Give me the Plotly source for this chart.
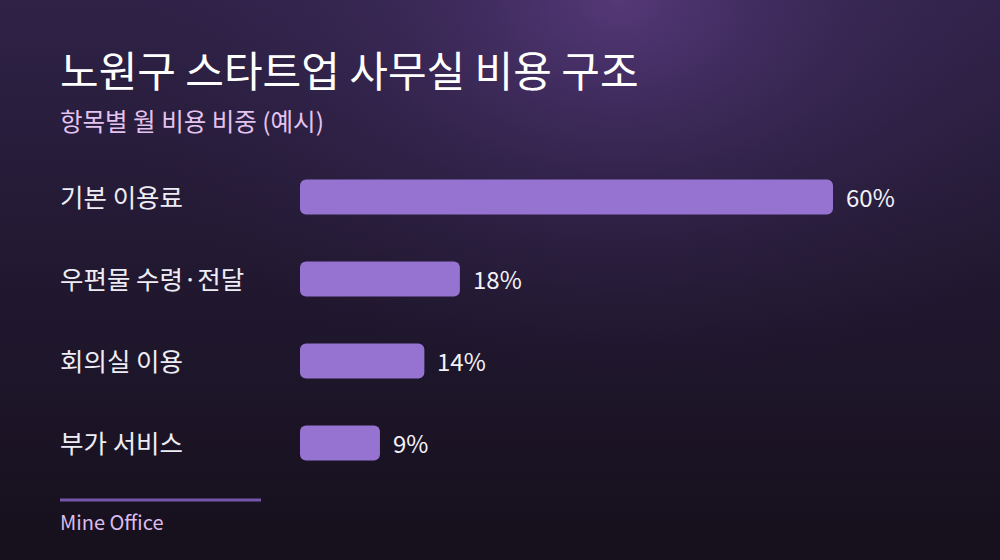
import base64

import plotly.graph_objects as go

# data
categories = ["기본 이용료", "우편물 수령·전달", "회의실 이용", "부가 서비스"]
shares = [60, 18, 14, 9]
title_text = "노원구 스타트업 사무실 비용 구조"
subtitle_text = "항목별 월 비용 비중 (예시)"
footer_text = "Mine Office"

FONT = "Noto Sans CJK KR"
BAR_COLOR = "#9673d1"

# background: purple glow at the top, fading to near-black at the bottom
bg_svg = """<svg xmlns="http://www.w3.org/2000/svg" width="1000" height="560">
<defs>
<linearGradient id="v" x1="0" y1="0" x2="0" y2="1">
<stop offset="0" stop-color="#2f2247"/>
<stop offset="0.5" stop-color="#211830"/>
<stop offset="1" stop-color="#16101c"/>
</linearGradient>
<radialGradient id="r" cx="620" cy="0" r="520" gradientUnits="userSpaceOnUse"
 gradientTransform="translate(620 0) scale(1 0.75) translate(-620 0)">
<stop offset="0" stop-color="#56397a" stop-opacity="0.95"/>
<stop offset="0.5" stop-color="#3f2b5e" stop-opacity="0.45"/>
<stop offset="1" stop-color="#2f2247" stop-opacity="0"/>
</radialGradient>
</defs>
<rect width="1000" height="560" fill="url(#v)"/>
<rect width="1000" height="560" fill="url(#r)"/>
</svg>"""
bg_uri = "data:image/svg+xml;base64," + base64.b64encode(bg_svg.encode()).decode()

fig = go.Figure()
# explicit base -> plotly rounds both ends of the bar
fig.add_trace(go.Bar(
    x=shares, base=[0] * len(shares), y=categories, orientation="h",
    marker={"color": BAR_COLOR, "line": {"width": 0}},
    hoverinfo="skip",
))

TX = -2  # annotation padding offset

# category labels on the left
for cat in categories:
    fig.add_annotation(
        x=0.06, xref="paper", y=cat, yref="y",
        text=cat, showarrow=False, xanchor="left", yanchor="middle",
        xshift=TX, yshift=2,
        font={"family": FONT, "size": 25.5, "color": "#eeedf5"},
    )

# value labels after the bars
for cat, val in zip(categories, shares):
    fig.add_annotation(
        x=val, xref="x", y=cat, yref="y",
        text=f"{val}%", showarrow=False, xanchor="left", yanchor="middle",
        xshift=11, yshift=1,
        font={"family": FONT, "size": 24, "color": "#f4f2f8"},
    )

fig.add_annotation(
    x=0.06, xref="paper", y=1 - 68 / 560, yref="paper",
    text=title_text, showarrow=False, xanchor="left", yanchor="middle",
    xshift=TX,
    font={"family": FONT, "size": 42, "color": "#ffffff"},
)
fig.add_annotation(
    x=0.06, xref="paper", y=1 - 120 / 560, yref="paper",
    text=subtitle_text, showarrow=False, xanchor="left", yanchor="middle",
    xshift=TX,
    font={"family": FONT, "size": 24.5, "color": "#e3c3ef"},
)
fig.add_annotation(
    x=0.06, xref="paper", y=1 - 521 / 560, yref="paper",
    text=footer_text, showarrow=False, xanchor="left", yanchor="middle",
    xshift=TX,
    font={"family": FONT, "size": 20, "color": "#dcbdec"},
)
fig.add_shape(
    type="line", xref="paper", yref="paper",
    x0=0.06, x1=0.261, y0=1 - 500 / 560, y1=1 - 500 / 560,
    line={"color": "#7656a8", "width": 3},
)

fig.update_layout(
    width=1000,
    height=560,
    margin={"l": 0, "r": 0, "t": 0, "b": 0},
    paper_bgcolor="#17101d",
    plot_bgcolor="rgba(0,0,0,0)",
    showlegend=False,
    bargap=0.573,
    barcornerradius=6,
    images=[{
        "source": bg_uri, "xref": "paper", "yref": "paper",
        "x": 0, "y": 1, "sizex": 1, "sizey": 1,
        "xanchor": "left", "yanchor": "top",
        "sizing": "stretch", "layer": "below",
    }],
    xaxis={
        "domain": [0.3, 0.833],
        "range": [0, 60],
        "visible": False,
        "fixedrange": True,
    },
    yaxis={
        "domain": [1 - 484 / 560, 1 - 156 / 560],
        "autorange": "reversed",
        "visible": False,
        "fixedrange": True,
    },
)

fig.write_html(
    "out.html",
    config={"displayModeBar": False},
    post_script="document.body.style.margin='0';",
)
